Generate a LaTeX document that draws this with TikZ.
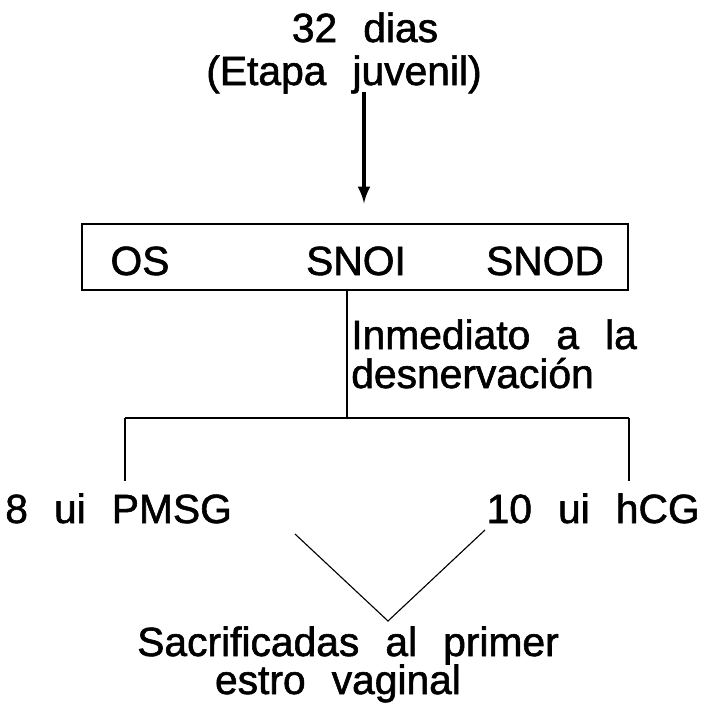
\documentclass[tikz,border=0pt]{standalone}
\usepackage{fontspec}
\setmainfont{Liberation Sans}[WordSpace=2.3, FakeBold=1.4]
\usepackage{tikz}
\usetikzlibrary{arrows}
\usetikzlibrary{arrows.meta}
\usetikzlibrary{positioning}
\tikzset{>=latex}
\tikzstyle{lbl} = [draw=none, inner sep = 0, anchor = base, font = \fontsize{29}{33}\selectfont]
\tikzstyle{link} = [-, line width = 1.1pt]

\begin{document}
\begin{tikzpicture}[x = 0.025cm, y = -0.025cm]
\useasboundingbox (0, 0) rectangle (702, 713);
\node [lbl] (dias) at (365, 42) {32 dias};
\node [lbl] (juv) at (344, 85) {(Etapa juvenil)};
\node [draw, line width = 1pt, inner sep = 0, minimum width = 13.65cm, minimum height = 1.65cm] (box) at (355, 257) {};
\node [lbl] (os) at (140, 275) {OS};
\node [lbl] (snoi) at (356, 275) {SNOI};
\node [lbl] (snod) at (545, 275) {SNOD};
\node [lbl, anchor = base west] (inm) at (351, 349) {Inmediato a la};
\node [lbl, anchor = base west] (desn) at (351, 388) {desnervación};
\node [lbl, anchor = base west] (pmsg) at (5, 523) {8 ui PMSG};
\node [lbl, anchor = base east] (hcg) at (700, 523) {10 ui hCG};
\node [lbl] (sacr) at (348, 656) {Sacrificadas al primer};
\node [lbl] (estro) at (338, 694) {estro vaginal};
\coordinate (atop) at (364, 92);
\coordinate (fork) at (347, 418);
\coordinate (lft) at (125, 418);
\coordinate (rgt) at (629, 418);
\coordinate (vl) at (295, 534);
\coordinate (vr) at (485, 530);
\coordinate (vtx) at (388, 621);
\draw [-latex, line width = 3pt, shorten >= 0.5cm] (atop) to (atop |- box.north);
\draw [link] (box.south -| fork) to (fork);
\draw [link] (lft) to (rgt);
\draw [link, shorten >= 0.3cm] (lft) to (lft |- pmsg.north);
\draw [link, shorten >= 0.3cm] (rgt) to (rgt |- hcg.north);
\draw [-, line width = 0.8pt] (vl) to (vtx) to (vr);
\end{tikzpicture}
\end{document}
